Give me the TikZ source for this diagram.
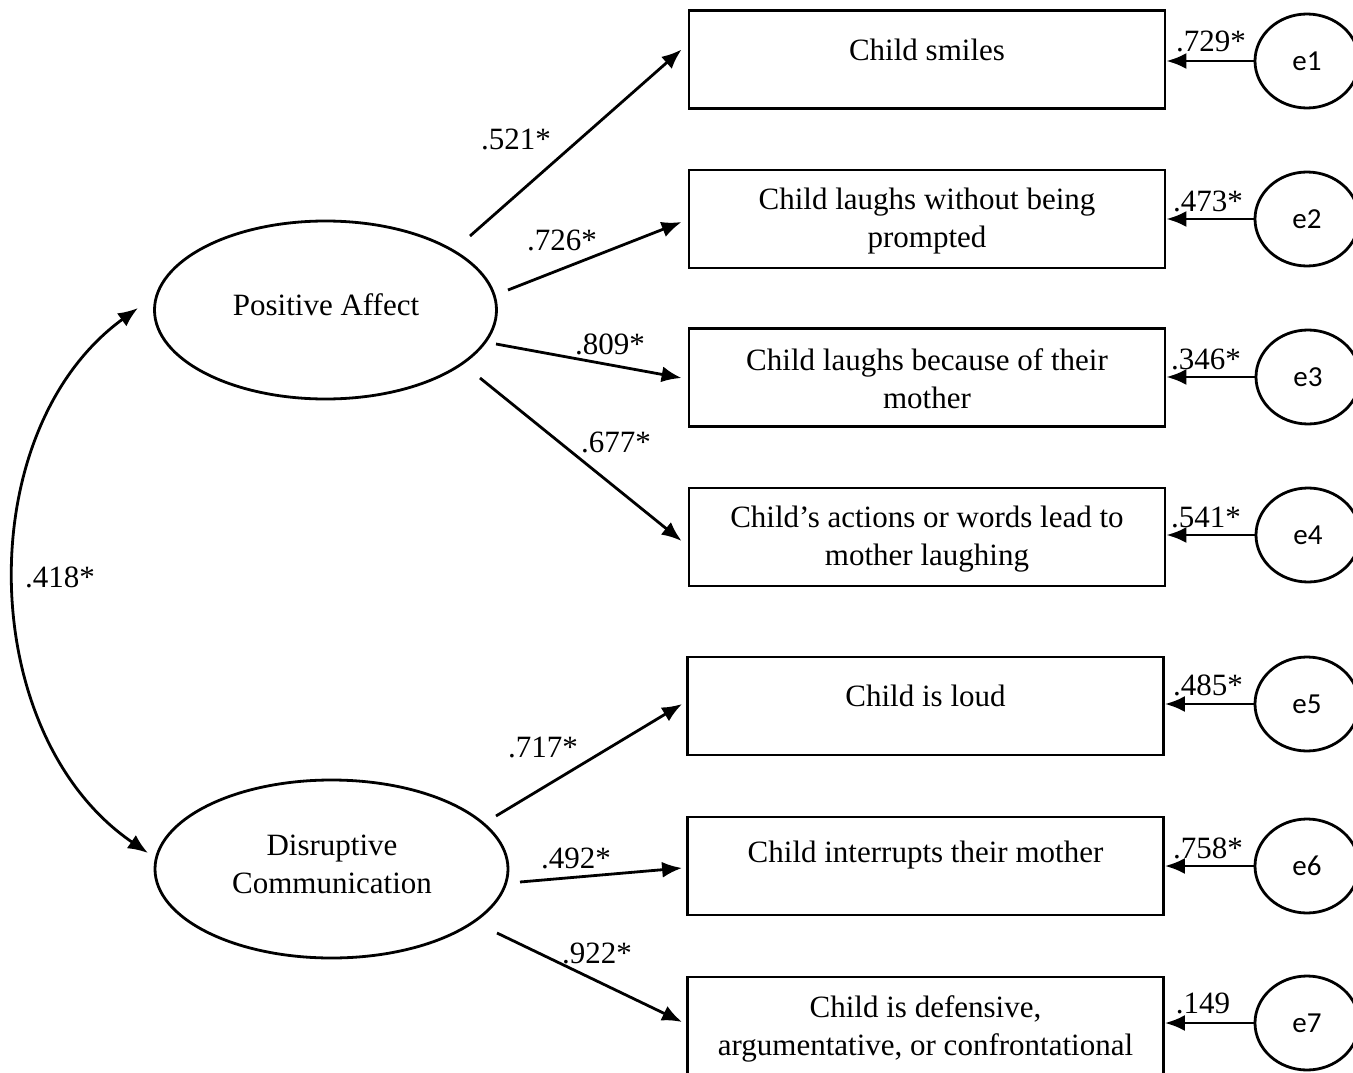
\documentclass[tikz,border=0pt]{standalone}
\usepackage{fontspec}
\setmainfont{Liberation Serif}
\newfontfamily\efont{Carlito}
\usetikzlibrary{arrows.meta,shapes.geometric,calc}
\begin{document}
\begin{tikzpicture}[x=1pt,y=-1pt,
  line width=2.8pt,
  every node/.style={inner sep=0pt},
  ind/.style={draw, rectangle, minimum width=476pt, minimum height=98pt},
  lat/.style={draw, ellipse, minimum width=342pt, minimum height=178pt},
  err/.style={draw, ellipse, minimum width=104pt, minimum height=94pt, font=\efont\fontsize{29}{34}\selectfont},
  txt/.style={font=\fontsize{31}{38}\selectfont, align=center},
  lab/.style={font=\fontsize{31}{38}\selectfont},
  arr/.style={-{Latex[length=20pt,width=16pt]}},
  darr/.style={{Latex[length=20pt,width=16pt]}-{Latex[length=20pt,width=16pt]}},
]
\useasboundingbox (0,0) rectangle (1353,1073);

% latent variables
\node[lat] (pa) at (325.5,310) {};
\node[txt] (pat) at (326,305) {Positive Affect};
\node[lat, minimum width=353pt] (dc) at (331.5,869) {};
\node[txt] (dct) at (332,864) {Disruptive\\Communication};

% indicator boxes
\node[ind] (b1) at (927,59.5) {};
\node[ind] (b2) at (927,219) {};
\node[ind] (b3) at (927,377.5) {};
\node[ind] (b4) at (927,537) {};
\node[ind] (b5) at (925.5,706) {};
\node[ind] (b6) at (925.5,866) {};
\node[ind] (b7) at (925.5,1026) {};

\node[txt] (t1) at (927,50) {Child smiles};
\node[txt] (t2) at (927,221) {Child laughs without being\\prompted};
\node[txt] (t3) at (927,379) {Child laughs because of their\\mother};
\node[txt] (t4) at (927,539) {Child's actions or words lead to\\mother laughing};
\node[txt] (t5) at (925.5,696) {Child is loud};
\node[txt] (t6) at (925.5,855) {Child interrupts their mother};
\node[txt] (t7) at (925.5,1029) {Child is defensive,\\argumentative, or confrontational};

% error terms
\node[err] (e1) at (1307,61) {e1};
\node[err] (e2) at (1307,219) {e2};
\node[err] (e3) at (1308,377) {e3};
\node[err] (e4) at (1308,535) {e4};
\node[err] (e5) at (1307,704) {e5};
\node[err] (e6) at (1307,866) {e6};
\node[err] (e7) at (1307,1023) {e7};

\foreach \i in {1,...,7}{
  \draw[arr] (e\i.west) -- (e\i.west -| b\i.east);
}

% loadings
\coordinate (s1) at (470,236);
\coordinate (s2) at (508,290);
\coordinate (s3) at (496,344);
\coordinate (s4) at (480,378);
\coordinate (s5) at (496,816);
\coordinate (s6) at (520,882);
\coordinate (s7) at (497,933);
\draw[arr] (s1) -- ($(b1.west)+(-6,-10)$);
\draw[arr] (s2) -- ($(b2.west)+(-6,3)$);
\draw[arr] (s3) -- ($(b3.west)+(-6,0.5)$);
\draw[arr] (s4) -- ($(b4.west)+(-6,4)$);
\draw[arr] (s5) -- ($(b5.west)+(-4,-2)$);
\draw[arr] (s6) -- ($(b6.west)+(-4,2)$);
\draw[arr] (s7) -- ($(b7.west)+(-4,-4)$);

% covariance
\coordinate (c1) at (138,308);
\coordinate (c2) at (148,853);
\draw[darr] (c1) .. controls (-30,430) and (-25,735) .. (c2);

% labels
\node[lab] (l1) at (516,139) {.521*};
\node[lab] (l2) at (562,240) {.726*};
\node[lab] (l3) at (610,344) {.809*};
\node[lab] (l4) at (616,442) {.677*};
\node[lab] (l5) at (543,747) {.717*};
\node[lab] (l6) at (576,858) {.492*};
\node[lab] (l7) at (597,953) {.922*};
\node[lab] (l8) at (60,577) {.418*};

\node[lab] (r1) at (1211,41) {.729*};
\node[lab] (r2) at (1208,201) {.473*};
\node[lab] (r3) at (1206,359) {.346*};
\node[lab] (r4) at (1206,517) {.541*};
\node[lab] (r5) at (1208,685) {.485*};
\node[lab] (r6) at (1208,848) {.758*};
\node[lab] (r7) at (1203,1003) {.149};
\end{tikzpicture}
\end{document}
